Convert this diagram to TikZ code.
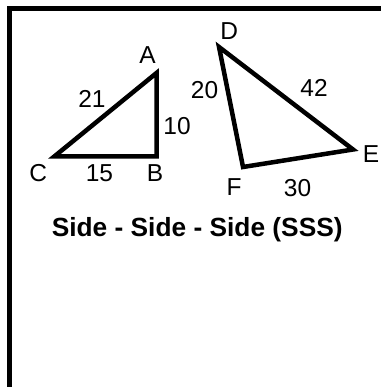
\documentclass[tikz,border=0pt]{standalone}
\usepackage{fontspec}
\setmainfont{Liberation Sans}
\begin{document}
\begin{tikzpicture}[x=1pt,y=-1pt,
  tri/.style={line width=4.5pt, line join=miter},
  lbl/.style={font=\fontsize{24.5}{24.5}\selectfont, inner sep=0pt},
  titlestyle/.style={font=\bfseries\fontsize{26.3}{26.3}\selectfont, inner sep=0pt, anchor=base},
  framestyle/.style={line width=5pt}]
\useasboundingbox (0,0) rectangle (381,387);
% frame
\coordinate (fbl) at (9.3,387);
\coordinate (ftl) at (9.3,8.5);
\coordinate (ftr) at (381,8.5);
\draw[framestyle] (fbl) -- (ftl) -- (ftr);
% triangle ABC
\coordinate (A) at (156.5,73);
\coordinate (B) at (156.5,156.3);
\coordinate (C) at (54.5,156.3);
\draw[tri] (A) -- (B) -- (C) -- cycle;
% triangle DEF
\coordinate (D) at (219,47);
\coordinate (E) at (353,149.5);
\coordinate (F) at (243,167);
\draw[tri] (D) -- (E) -- (F) -- cycle;
% labels
\node[lbl] (lA) at (147.5,55) {A};
\node[lbl] (lB) at (155,173) {B};
\node[lbl] (lC) at (38.3,173.5) {C};
\node[lbl] (l21) at (92,99) {21};
\node[lbl] (l10) at (177,126) {10};
\node[lbl] (l15) at (99.5,173.5) {15};
\node[lbl] (lD) at (229.2,31.3) {D};
\node[lbl] (lE) at (371,154) {E};
\node[lbl] (lF) at (234.2,186.7) {F};
\node[lbl] (l20) at (204.5,90) {20};
\node[lbl] (l42) at (314,88.3) {42};
\node[lbl] (l30) at (297.5,188.3) {30};
% title
\node[titlestyle] (title) at (197.2,236.7) {Side - Side - Side (SSS)};
\end{tikzpicture}
\end{document}
